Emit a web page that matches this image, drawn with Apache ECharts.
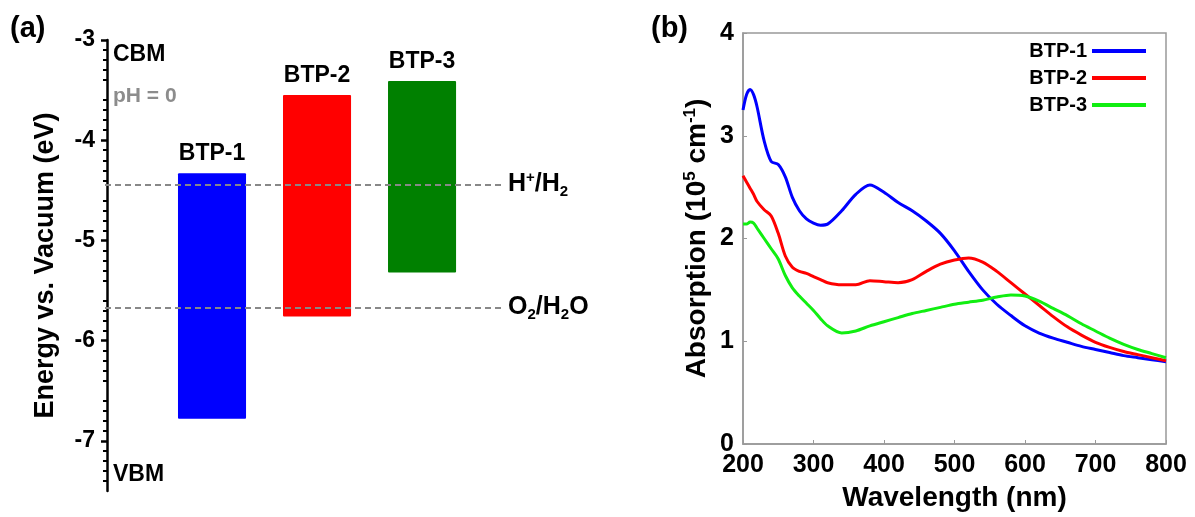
<!DOCTYPE html>
<html>
<head>
<meta charset="utf-8">
<script src="https://cdn.jsdelivr.net/npm/echarts@6/dist/echarts.min.js"></script>
<style>
  html, body { margin: 0; padding: 0; background: #fff; }
  #chart { width: 1195px; height: 517px; }
</style>
</head>
<body>
<div id="chart"></div>
<script>
// (a) band edges, eV vs vacuum
var materials = ['BTP-1', 'BTP-2', 'BTP-3'];
var cbm = [-4.33, -3.55, -3.41];
var vbm = [-6.78, -5.76, -5.32];
var bandColors = ['#0000ff', '#ff0000', '#008000'];
var redoxLevels = [-4.44, -5.67];
var energyTicks = [-3, -4, -5, -6, -7];

// (b) absorption spectra, 10^5 cm^-1
var wavelength = [200, 205, 210, 215, 220, 230, 240, 250, 260, 270, 280, 290, 300, 310, 320,
    340, 360, 380, 400, 420, 440, 460, 480, 500, 520, 540, 560, 580, 600, 620, 640, 660, 680,
    700, 720, 740, 760, 780, 800];
var btp1 = [3.25, 3.40, 3.45, 3.40, 3.28, 2.95, 2.75, 2.72, 2.60, 2.40, 2.27, 2.19, 2.15, 2.13, 2.14,
    2.27, 2.43, 2.52, 2.45, 2.35, 2.27, 2.17, 2.05, 1.88, 1.68, 1.50, 1.36, 1.25, 1.15, 1.08, 1.03, 0.99, 0.95,
    0.92, 0.89, 0.86, 0.84, 0.82, 0.80];
var btp2 = [2.61, 2.55, 2.49, 2.43, 2.36, 2.28, 2.22, 2.05, 1.83, 1.72, 1.68, 1.66, 1.63, 1.60, 1.57,
    1.55, 1.55, 1.59, 1.58, 1.57, 1.60, 1.68, 1.75, 1.79, 1.81, 1.77, 1.68, 1.57, 1.46, 1.35, 1.24, 1.14, 1.06,
    0.99, 0.94, 0.90, 0.87, 0.84, 0.81];
var btp3 = [2.14, 2.14, 2.16, 2.15, 2.10, 2.00, 1.90, 1.80, 1.64, 1.52, 1.44, 1.37, 1.30, 1.22, 1.15,
    1.08, 1.10, 1.15, 1.19, 1.23, 1.27, 1.30, 1.33, 1.36, 1.38, 1.40, 1.43, 1.45, 1.44, 1.39, 1.32, 1.25, 1.17,
    1.10, 1.03, 0.97, 0.92, 0.88, 0.84];
var lineColors = ['#0000ff', '#ff0000', '#11ee11'];

var FONT = '"Liberation Sans", Arial, sans-serif';
var chart = echarts.init(document.getElementById('chart'));

function pairs(ys) {
    var out = [];
    for (var i = 0; i < wavelength.length; i++) out.push([wavelength[i], ys[i]]);
    return out;
}

var bandData = materials.map(function (name, i) {
    return [i + 1, cbm[i], vbm[i]];
});

function spectrum(idx, values) {
    return {
        name: materials[idx], type: 'line', xAxisIndex: 1, yAxisIndex: 1,
        data: pairs(values), showSymbol: false, smooth: 0.3,
        lineStyle: { color: lineColors[idx], width: 3 }, itemStyle: { color: lineColors[idx] }
    };
}

var options = {
    animation: false,
    textStyle: { fontFamily: FONT },
    grid: [
        { left: 105, top: 40, width: 400, height: 451 },
        { left: 743, top: 33, width: 423, height: 412, show: true, borderColor: '#999', borderWidth: 1.5 }
    ],
    xAxis: [
        { gridIndex: 0, type: 'value', min: -0.019, max: 3.79, show: false },
        {
            gridIndex: 1, type: 'value', min: 200, max: 800, interval: 100,
            name: 'Wavelength (nm)', nameLocation: 'middle', nameGap: 40,
            nameTextStyle: { fontSize: 28, fontWeight: 'bold', color: '#000', fontFamily: FONT },
            axisLine: { lineStyle: { color: '#999', width: 1.5 } },
            axisTick: { inside: true, length: 4, lineStyle: { color: '#999' } },
            axisLabel: { fontSize: 25, fontWeight: 'bold', color: '#000', margin: 9, fontFamily: FONT },
            splitLine: { show: false }
        }
    ],
    yAxis: [
        {
            gridIndex: 0, type: 'value', min: -7.5, max: -3, interval: 0.5,
            name: 'Energy vs. Vacuum (eV)', nameLocation: 'middle', nameGap: 46,
            nameTextStyle: { fontSize: 27, fontWeight: 'bold', color: '#000', fontFamily: FONT },
            axisLine: { show: true, lineStyle: { color: '#000', width: 2.5 } },
            axisTick: { show: true, length: 6, customValues: energyTicks, lineStyle: { color: '#000', width: 2.5 } },
            minorTick: { show: true, splitNumber: 5, length: 4, lineStyle: { color: '#000', width: 2 } },
            axisLabel: { customValues: energyTicks, fontSize: 23, fontWeight: 'bold', color: '#000', margin: 10, fontFamily: FONT },
            splitLine: { show: false }
        },
        {
            gridIndex: 1, type: 'value', min: 0, max: 4, interval: 1,
            name: '{t|Absorption (10}{sup|5}{t| cm}{sup|-1}{t|)}', nameLocation: 'middle', nameGap: 30,
            nameTextStyle: {
                color: '#000',
                rich: {
                    t: { fontSize: 28, fontWeight: 'bold', color: '#000', fontFamily: FONT },
                    sup: { fontSize: 17, fontWeight: 'bold', color: '#000', fontFamily: FONT, padding: [0, 0, 14, 0] }
                }
            },
            axisLine: { lineStyle: { color: '#999', width: 1.5 } },
            axisTick: { inside: true, length: 4, lineStyle: { color: '#999' } },
            axisLabel: { fontSize: 25, fontWeight: 'bold', color: '#000', margin: 9, fontFamily: FONT },
            splitLine: { show: false }
        }
    ],
    legend: {
        orient: 'vertical', right: 44, top: 36, align: 'right',
        icon: 'rect', itemWidth: 54, itemHeight: 4, itemGap: 7,
        textStyle: { fontSize: 20, fontWeight: 'bold', color: '#000', fontFamily: FONT },
        data: materials
    },
    graphic: [
        { type: 'text', left: 10, top: 14, style: { text: '(a)', font: 'bold 29px ' + FONT, fill: '#000' } },
        { type: 'text', left: 651, top: 14, style: { text: '(b)', font: 'bold 29px ' + FONT, fill: '#000' } },
        { type: 'text', left: 113, top: 43, style: { text: 'CBM', font: 'bold 23px ' + FONT, fill: '#000' } },
        { type: 'text', left: 113, top: 86, style: { text: 'pH = 0', font: 'bold 21px ' + FONT, fill: '#8c8c8c' } },
        { type: 'text', left: 113, top: 463, style: { text: 'VBM', font: 'bold 23px ' + FONT, fill: '#000' } }
    ],
    series: [
        {
            type: 'custom',
            xAxisIndex: 0, yAxisIndex: 0,
            data: bandData,
            renderItem: function (params, api) {
                var x = api.value(0);
                var top = api.coord([x, api.value(1)]);
                var bot = api.coord([x, api.value(2)]);
                var w = api.size([0.648, 0])[0];
                var i = params.dataIndex;
                return {
                    type: 'rect',
                    shape: { x: top[0] - w / 2, y: top[1], width: w, height: bot[1] - top[1], r: 1 },
                    style: { fill: bandColors[i] },
                    textContent: {
                        style: { text: materials[i], font: 'bold 23px ' + FONT, fill: '#000' }
                    },
                    textConfig: { position: 'top', distance: 8 }
                };
            },
            markLine: {
                silent: true,
                symbol: 'none',
                lineStyle: { color: '#888', type: [6, 4], width: 2 },
                label: {
                    show: true,
                    position: 'end',
                    distance: 3,
                    color: '#000',
                    rich: {
                        t: { fontSize: 25, fontWeight: 'bold', color: '#000', fontFamily: FONT },
                        sup: { fontSize: 15, fontWeight: 'bold', color: '#000', fontFamily: FONT, padding: [0, 0, 13, 0] },
                        sub: { fontSize: 15, fontWeight: 'bold', color: '#000', fontFamily: FONT, padding: [15, 0, 0, 0] }
                    }
                },
                data: [
                    { yAxis: redoxLevels[0], label: { formatter: '{t|H}{sup|+}{t|/H}{sub|2}' } },
                    { yAxis: redoxLevels[1], label: { formatter: '{t|O}{sub|2}{t|/H}{sub|2}{t|O}' } }
                ]
            }
        },
        spectrum(0, btp1),
        spectrum(1, btp2),
        spectrum(2, btp3)
    ]
};

chart.setOption(options);
</script>
</body>
</html>
